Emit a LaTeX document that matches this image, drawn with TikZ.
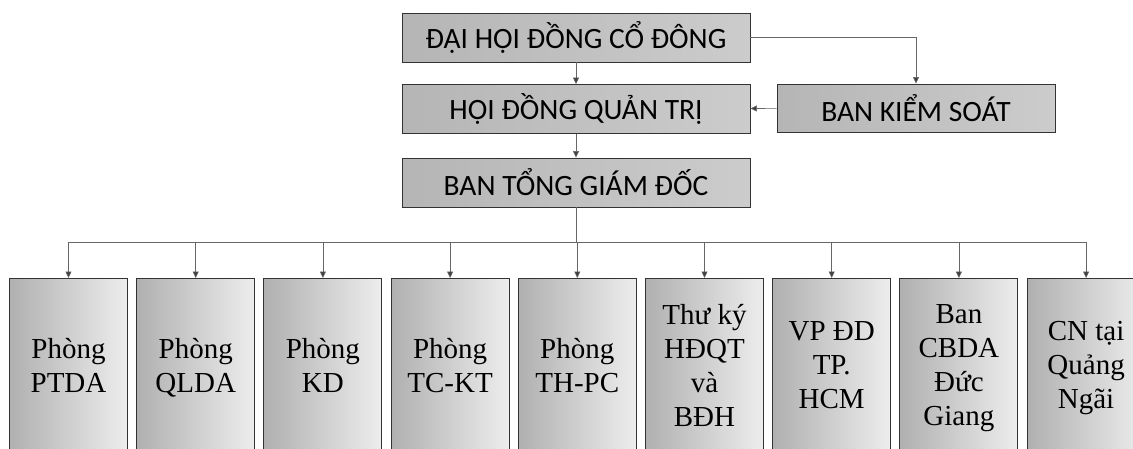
\documentclass[tikz,border=0pt]{standalone}
\usepackage{fontspec}
\setmainfont{Liberation Serif}
\newfontfamily\topfont{Carlito}
\usetikzlibrary{arrows.meta}
\begin{document}
\begin{tikzpicture}[x=1pt,y=-1pt,
  topbox/.style={draw=black!80, line width=0.9pt, left color=gray!58, right color=gray!40,
    minimum width=348pt, minimum height=49pt, inner sep=0pt,
    font=\topfont\fontsize{29.5}{34}\selectfont},
  lowbox/.style={draw=black!80, line width=0.9pt, left color=gray!62, right color=gray!14,
    minimum width=118pt, minimum height=184pt, inner sep=0pt, align=center,
    font=\fontsize{29}{34}\selectfont,
    execute at begin node=\strut, execute at end node=\strut},
  conn/.style={draw=black!60, line width=0.6pt, -{Triangle[length=6.5pt,width=6pt,fill=black!75]}},
  bus/.style={draw=black!60, line width=0.6pt}]
\useasboundingbox (0,0) rectangle (1133,448);
\clip (0,0) rectangle (1133,448);
\node[topbox] (dh) at (576,37.5) {ĐẠI HỘI ĐỒNG CỔ ĐÔNG};
\node[topbox] (hd) at (576,109) {HỘI ĐỒNG QUẢN TRỊ};
\node[topbox] (bt) at (576,182.5) {BAN TỔNG GIÁM ĐỐC};
\node[topbox, minimum width=278pt, minimum height=48pt] (bk) at (916,108) {BAN KIỂM SOÁT};
\draw[conn] (dh) -- (hd);
\draw[conn] (hd) -- (bt);
\draw[conn] (dh.east) -| (bk.north);
\draw[conn] (bk) -- (hd);
\coordinate (j) at (576,242);
\foreach \t [count=\i] in {{Phòng\\PTDA},{Phòng\\QLDA},{Phòng\\KD},{Phòng\\TC-KT},{Phòng\\TH-PC},{Thư ký\\HĐQT\\và\\BĐH},{VP ĐD\\TP.\\HCM},{Ban\\CBDA\\Đức\\Giang},{CN tại\\Quảng\\Ngãi}}{
  \node[lowbox, anchor=north] (b\i) at ({68.5+127.2*(\i-1)},278) {\t};
}
\draw[bus] (bt.south) -- (j);
\draw[bus] (b1.north |- j) -- (b9.north |- j);
\foreach \i in {1,...,9}{
  \draw[conn] (b\i.north |- j) -- (b\i.north);
}
\end{tikzpicture}
\end{document}
